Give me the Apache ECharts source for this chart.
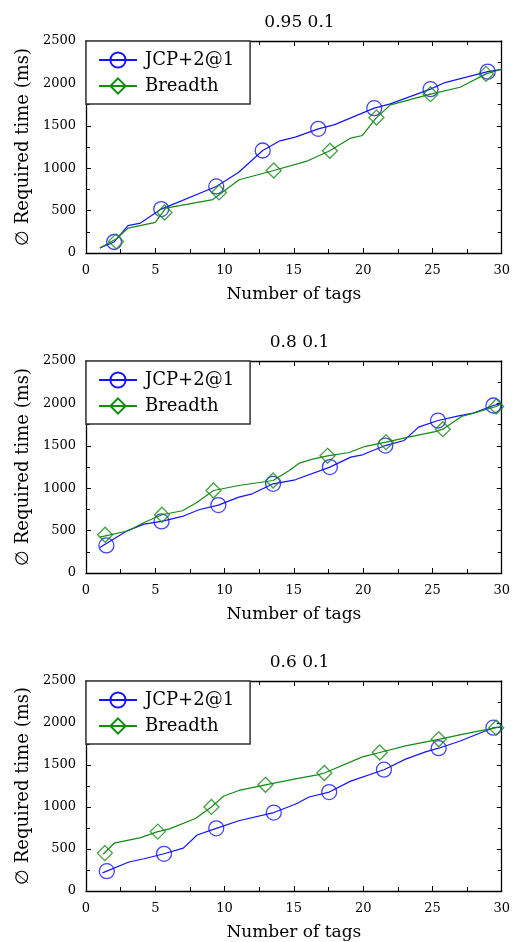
<!DOCTYPE html>
<html><head><meta charset="utf-8">
<script src="https://cdn.jsdelivr.net/npm/echarts@6/dist/echarts.min.js"></script>
<style>html,body{margin:0;padding:0;background:#fff}#c{width:513px;height:942px}</style>
</head><body><div id="c"></div>
<script>
const panelTitles = ['0.95 0.1', '0.8 0.1', '0.6 0.1'];
const seriesNames = ['JCP+2@1', 'Breadth'];
const xName = 'Number of tags';
const yName = '\u2205 Required time (ms)';
const xMin = 0, xMax = 30, xStep = 5;
const yMin = 0, yMax = 2500, yStep = 500;

// Panel 1 (0.95 0.1)
const p1JcpLine = [[1,60],[2.03,130],[3.03,322],[3.93,353],[5.43,518],[9.4,785],[11,950],[12.75,1209],[14,1323],[15.1,1366],[16.76,1464],[17.9,1511],[20.8,1708],[21.9,1755],[24.86,1932],[25.9,2010],[28.99,2139],[30,2165]];
const p1JcpMarks = [[2.03,130],[5.43,518],[9.4,785],[12.75,1209],[16.76,1464],[20.8,1708],[24.86,1932],[28.99,2139]];
const p1BreadthLine = [[1,60],[2.17,165],[3.04,294],[5.0,361],[5.75,530],[9.15,630],[11.05,864],[13.55,973],[16,1087],[17.6,1205],[19.1,1355],[19.95,1386],[20.96,1597],[21.97,1747],[24.86,1873],[27,1955],[28.86,2112],[30,2167]];
const p1BreadthMarks = [[2.17,137],[5.67,478],[9.6,714],[13.55,973],[17.6,1205],[20.96,1597],[24.86,1873],[28.86,2112]];

// Panel 2 (0.8 0.1)
const p2JcpLine = [[1,300],[3.0,500],[4.19,577],[5.45,608],[6.95,667],[8.15,746],[9.55,801],[11.03,895],[12,934],[13.5,1052],[15.1,1099],[17.6,1249],[19.1,1366],[19.95,1394],[21.6,1503],[22.95,1562],[24,1720],[25.4,1798],[26.9,1853],[27.95,1885],[29.4,1975],[30,2000]];
const p2JcpMarks = [[1.47,325],[5.45,608],[9.55,801],[13.5,1052],[17.6,1249],[21.6,1503],[25.4,1798],[29.4,1975]];
const p2BreadthLine = [[1,424],[3.06,498],[4.19,596],[5.48,687],[6.95,734],[8.0,832],[9.2,973],[11.03,1032],[13.5,1091],[14.67,1209],[15.4,1296],[16.35,1343],[17.43,1382],[19,1421],[20.1,1491],[21.65,1543],[23.1,1597],[25.2,1668],[25.75,1696],[27.1,1845],[28.1,1892],[29.6,1963],[30,2000]];
const p2BreadthMarks = [[1.38,451],[5.48,687],[9.2,973],[13.5,1091],[17.43,1382],[21.65,1543],[25.75,1696],[29.6,1963]];

// Panel 3 (0.6 0.1)
const p3JcpLine = [[1.19,216],[3.1,345],[4.19,384],[5.63,443],[7.02,510],[8.02,667],[9.4,746],[11.03,836],[13.55,934],[15.1,1032],[16.1,1119],[17.55,1178],[19.1,1308],[21.5,1444],[23.06,1570],[24.5,1656],[25.45,1700],[27,1786],[29.4,1944],[30,1950]];
const p3JcpMarks = [[1.5,236],[5.63,443],[9.4,746],[13.55,934],[17.55,1178],[21.5,1444],[25.45,1700],[29.4,1944]];
const p3BreadthLine = [[1.25,440],[2.03,569],[3.95,636],[5.18,707],[5.98,737],[7.9,863],[9.05,1001],[9.95,1131],[11.03,1197],[12.95,1264],[15.1,1335],[16.7,1382],[17.2,1405],[19.95,1597],[21.2,1649],[23.06,1727],[25.45,1806],[27.4,1873],[29.6,1944],[30,1955]];
const p3BreadthMarks = [[1.36,451],[5.18,707],[9.05,1001],[12.95,1264],[17.2,1405],[21.2,1649],[25.45,1806],[29.6,1944]];

const panels = [
  [p1JcpLine, p1JcpMarks, p1BreadthLine, p1BreadthMarks],
  [p2JcpLine, p2JcpMarks, p2BreadthLine, p2BreadthMarks],
  [p3JcpLine, p3JcpMarks, p3BreadthLine, p3BreadthMarks]
];

const FONT = 'DejaVu Serif';
const colors = ['#1414ff', '#158a15'];
const symbols = ['circle', 'diamond'];
const gridTops = [41, 361, 681];
const gridLeft = 86, gridWidth = 417, gridHeight = 212;

const option = {
  animation: false,
  backgroundColor: '#fff',
  title: [], grid: [], xAxis: [], yAxis: [], legend: [], series: []
};

const tickCommon = {
  axisLine: { show: true, onZero: false, lineStyle: { color: '#000', width: 1.3 } },
  axisTick: { show: true, inside: true, length: 5, lineStyle: { color: '#000', width: 1 } },
  minorTick: { show: true, splitNumber: 2, length: 4, lineStyle: { color: '#000', width: 1 } },
  splitLine: { show: false }, minorSplitLine: { show: false }
};
const plain = v => String(v);

panels.forEach((p, i) => {
  const top = gridTops[i];
  option.title.push({
    text: panelTitles[i], left: gridLeft + gridWidth / 2, top: top - 32, textAlign: 'center',
    textStyle: { fontFamily: FONT, fontSize: 17, fontWeight: 'normal', color: '#000' }
  });
  option.grid.push({ left: gridLeft, top: top, width: gridWidth, height: gridHeight });
  const xb = { gridIndex: i, type: 'value', min: xMin, max: xMax, interval: xStep, ...tickCommon };
  option.xAxis.push(Object.assign({}, xb, {
    position: 'bottom', name: xName, nameLocation: 'middle', nameGap: 33,
    nameTextStyle: { fontFamily: FONT, fontSize: 17, color: '#000' },
    axisLabel: { fontFamily: FONT, fontSize: 13, color: '#000', margin: 11, formatter: plain }
  }));
  option.xAxis.push(Object.assign({}, xb, { position: 'top', axisLabel: { show: false } }));
  const yb = { gridIndex: i, type: 'value', min: yMin, max: yMax, interval: yStep, ...tickCommon };
  option.yAxis.push(Object.assign({}, yb, {
    position: 'left', name: yName, nameLocation: 'middle', nameGap: 48,
    nameTextStyle: { fontFamily: FONT, fontSize: 18, color: '#000' },
    axisLabel: { fontFamily: FONT, fontSize: 13, color: '#000', margin: 10, formatter: plain }
  }));
  option.yAxis.push(Object.assign({}, yb, { position: 'right', axisLabel: { show: false } }));

  option.legend.push({
    orient: 'vertical', left: gridLeft, top: top, data: seriesNames,
    itemWidth: 38, itemHeight: 19, itemGap: 6, padding: [9, 16, 8, 12],
    backgroundColor: '#fff', borderColor: '#333', borderWidth: 1.5, borderRadius: 0,
    textStyle: { fontFamily: FONT, fontSize: 18, color: '#000', lineHeight: 20, padding: [0, 0, 0, 3] },
    selectedMode: false
  });

  const xIdx = i * 2, yIdx = i * 2;
  for (let s = 0; s < 2; s++) {
    const lineData = p[s * 2], markData = p[s * 2 + 1];
    option.series.push({
      name: seriesNames[s], type: 'line', xAxisIndex: xIdx, yAxisIndex: yIdx,
      data: lineData, showSymbol: false, symbol: symbols[s], symbolSize: 15,
      lineStyle: { color: colors[s], width: 1.2 },
      itemStyle: { color: 'transparent', borderColor: colors[s], borderWidth: 1.3 },
      z: 2 + s * 2
    });
    option.series.push({
      name: seriesNames[s], type: 'scatter', xAxisIndex: xIdx, yAxisIndex: yIdx,
      data: markData, symbol: symbols[s], symbolSize: 15,
      itemStyle: { color: 'transparent', borderColor: colors[s], borderWidth: 1.3 },
      z: 3 + s * 2
    });
  }
});

const chart = echarts.init(document.getElementById('c'), null, { renderer: 'canvas' });
chart.setOption(option);
</script></body></html>
